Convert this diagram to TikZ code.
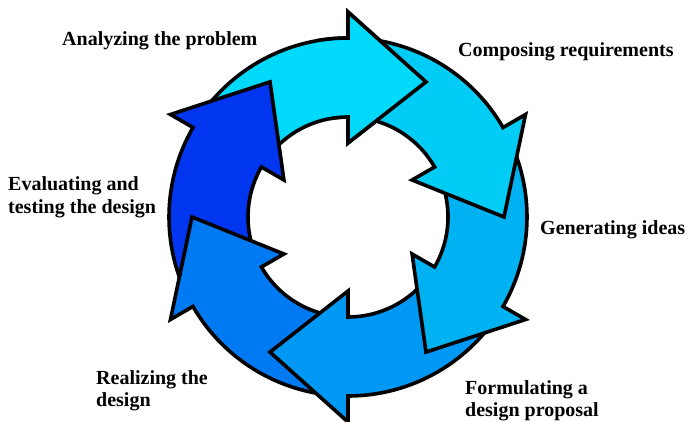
\documentclass[tikz,border=0pt]{standalone}
\usepackage{fontspec}
\setmainfont{Liberation Serif}
\begin{document}
\begin{tikzpicture}[x=1pt,y=1pt,
  arrowshape/.style={line width=3.6pt, draw=black, line join=miter},
  lab/.style={font=\fontsize{20}{22.5}\selectfont\bfseries, inner sep=0pt, anchor=base west, align=left}]
\useasboundingbox (0,0) rectangle (691,422);
\definecolor{cA}{RGB}{0,217,250}
\definecolor{cB}{RGB}{0,204,245}
\definecolor{cC}{RGB}{0,178,242}
\definecolor{cD}{RGB}{0,152,245}
\definecolor{cE}{RGB}{0,122,242}
\definecolor{cF}{RGB}{0,54,240}
\newcommand{\cyclearrow}[2]{%
  \filldraw[arrowshape, fill=#2] (#1+60:179) arc[start angle=#1+60, end angle=#1, radius=179]
    -- (#1:205) -- (#1-30:156) -- (#1:74) -- (#1:100)
    arc[start angle=#1, end angle=#1+60, radius=100] -- cycle;}
\begin{scope}[shift={(348,205)}]
  \cyclearrow{90}{cA}
  \cyclearrow{150}{cF}
  \cyclearrow{210}{cE}
  \cyclearrow{270}{cD}
  \cyclearrow{330}{cC}
  \cyclearrow{30}{cB}
  % head of the first arrow again, over the tail of the second
  \fill[cA] (100:179) arc[start angle=100, end angle=90, radius=179]
    -- (90:205) -- (60:156) -- (90:74) -- (90:100)
    arc[start angle=90, end angle=100, radius=100] -- cycle;
  \draw[arrowshape] (100:179) arc[start angle=100, end angle=90, radius=179]
    -- (90:205) -- (60:156) -- (90:74) -- (90:100)
    arc[start angle=90, end angle=100, radius=100];
\end{scope}
\node[lab] (analyze) at (62,376) {Analyzing the problem};
\node[lab] (compose) at (458,365.3) {Composing requirements};
\node[lab] (generate) at (540,187) {Generating ideas};
\node[lab] (evaluate) at (8,208.7) {Evaluating and\\testing the design};
\node[lab] (realize) at (96,15) {Realizing the\\design};
\node[lab] (formulate) at (465,5) {Formulating a\\design proposal};
\end{tikzpicture}
\end{document}
